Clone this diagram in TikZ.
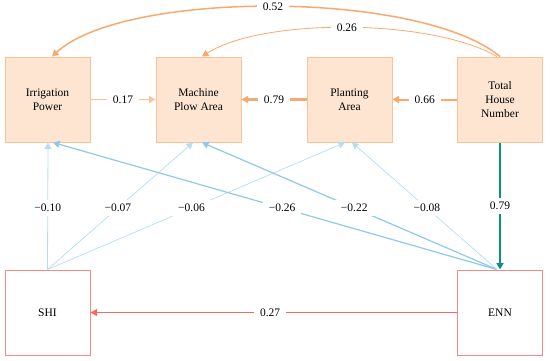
\documentclass[tikz,border=0pt]{standalone}
\usepackage{fontspec}
\setmainfont{Liberation Serif}
\usetikzlibrary{arrows.meta}
\definecolor{boxfill}{HTML}{FDE5D2}
\definecolor{boxline}{HTML}{F9C39A}
\definecolor{org}{HTML}{F9A86E}
\definecolor{orglight}{HTML}{FAC29C}
\definecolor{tealc}{HTML}{0E8F84}
\definecolor{redc}{HTML}{F26B5F}
\definecolor{redbox}{HTML}{F48A80}
\definecolor{bluec}{HTML}{8EC8EC}
\definecolor{bluelight}{HTML}{B5DDF4}
\tikzset{
  varbox/.style={draw=boxline, fill=boxfill, line width=1pt, minimum width=85pt, minimum height=85pt, inner sep=0pt, align=center, font=\fontsize{11.5}{14}\selectfont},
  outbox/.style={draw=redbox, fill=white, line width=1pt, minimum width=85pt, minimum height=85pt, inner sep=0pt, align=center, font=\fontsize{11.5}{14}\selectfont},
  lab/.style={fill=white, inner xsep=6pt, inner ysep=4pt, text=black, font=\fontsize{11.5}{14}\selectfont},
  tip/.style={-{Triangle[length=6.5pt,width=7pt]}},
}
\begin{document}
\begin{tikzpicture}[x=1pt,y=-1pt]
\useasboundingbox (0,0) rectangle (550,360);
\node[varbox] (irr) at (47.5,99.5) {Irrigation\\Power};
\node[varbox] (mpa) at (198.5,99.5) {Machine\\Plow Area};
\node[varbox] (pla) at (349.5,99.5) {Planting\\Area};
\node[varbox] (thn) at (500,99.5) {Total\\House\\Number};
\node[outbox] (shi) at (47.5,312.5) {SHI};
\node[outbox] (enn) at (500,312.5) {ENN};
% top curves
\draw[tip, org, line width=1.5pt] (thn.north) .. controls (420,-10) and (124,-10) .. ([xshift=4.5pt]irr.north) node[lab, pos=0.5] {0.52};
\draw[tip, org, line width=0.8pt] ([xshift=-3pt]thn.north) .. controls (430,18) and (262,18) .. ([xshift=3.5pt]mpa.north) node[lab, pos=0.5] {0.26};
% horizontal
\draw[tip, orglight, line width=0.9pt] (irr.east) -- (mpa.west) node[lab, midway] {0.17};
\draw[tip, org, line width=2.5pt] (pla.west) -- (mpa.east) node[lab, midway] {0.79};
\draw[tip, org, line width=2pt] (thn.west) -- (pla.east) node[lab, midway] {0.66};
% teal
\draw[tip, tealc, line width=2.5pt] (thn.south) -- (enn.north) node[lab, midway] {0.79};
% red
\draw[tip, redc, line width=1.2pt] (enn.west) -- (shi.east) node[lab, pos=0.51] {0.27};
% blue from SHI
\coordinate (shitop) at (shi.north);
\coordinate (enntop) at ([xshift=-3pt]enn.north);
\draw[tip, bluelight, line width=0.8pt] (shitop) -- ([xshift=0.5pt]irr.south) node[lab, pos=0.484] {−0.10};
\draw[tip, bluelight, line width=0.7pt] (shitop) -- ([xshift=-5.5pt]mpa.south) node[lab, pos=0.484] {−0.07};
\draw[tip, bluelight, line width=0.7pt] (shitop) -- ([xshift=-4.5pt]pla.south) node[lab, pos=0.484] {−0.06};
% blue from ENN
\draw[tip, bluec, line width=1.2pt] (enntop) -- ([xshift=5.5pt]irr.south) node[lab, pos=0.484] {−0.26};
\draw[tip, bluec, line width=1.2pt] (enntop) -- ([xshift=3.5pt]mpa.south) node[lab, pos=0.484] {−0.22};
\draw[tip, bluelight, line width=0.7pt] (enntop) -- ([xshift=2.5pt]pla.south) node[lab, pos=0.484] {−0.08};
\end{tikzpicture}
\end{document}
